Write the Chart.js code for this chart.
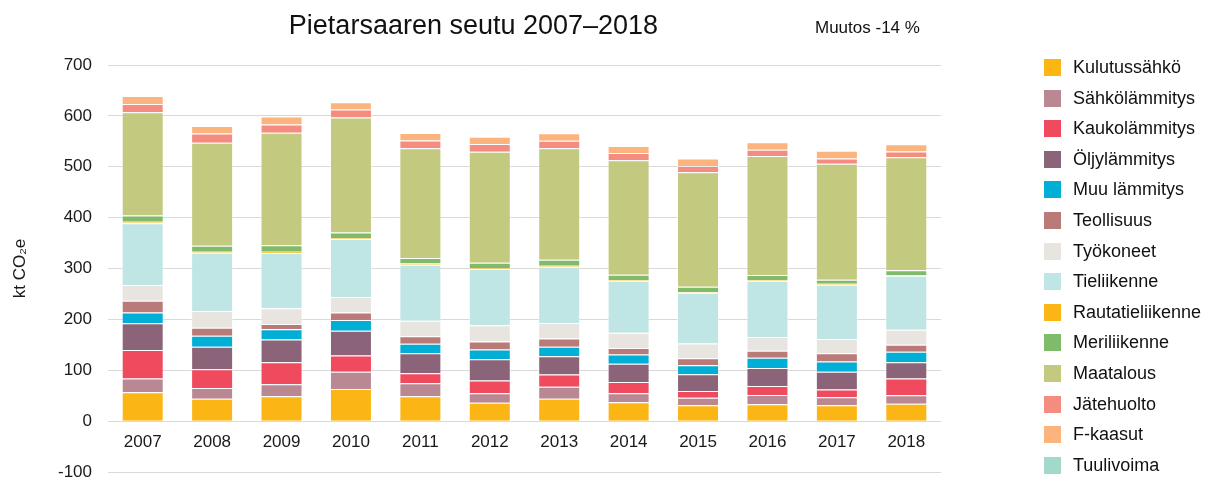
<!DOCTYPE html>
<html>
<head>
<meta charset="utf-8">
<script src="https://cdn.jsdelivr.net/npm/chart.js@4/dist/chart.umd.min.js"></script>
<style>
  body { margin: 0; background: #fff; font-family: "Liberation Sans", Arial, sans-serif; }
  #wrap { position: relative; width: 1209px; height: 477px; }
  #title { position: absolute; left: 0; width: 947px; top: 9px; text-align: center; font-size: 27px; line-height: 32px; color: #111; }
  #change { position: absolute; left: 815px; top: 18px; font-size: 17px; line-height: 20px; color: #111; }
  #legend { position: absolute; left: 1044px; top: 0; margin: 0; padding: 0; list-style: none; }
  #legend li { position: absolute; left: 0; width: 165px; height: 17px; white-space: nowrap; }
  #legend span.box { position: absolute; left: 0; top: 0; width: 17px; height: 17px; }
  #legend span.txt { position: absolute; left: 29px; top: -2px; font-size: 18px; line-height: 21px; color: #111; }
</style>
</head>
<body>
<div id="wrap">
  <canvas id="chart" width="1209" height="477"></canvas>
  <div id="title">Pietarsaaren seutu 2007–2018</div>
  <div id="change">Muutos -14 %</div>
  <ul id="legend"></ul>
</div>
<script>
var years = ["2007", "2008", "2009", "2010", "2011", "2012", "2013", "2014", "2015", "2016", "2017", "2018"];

var kulutussahko   = [57, 44, 49, 63, 49, 36, 44, 37, 31, 33, 31, 34];
var sahkolammitys  = [27, 21, 23.5, 34, 25.5, 19, 23.5, 17.6, 15, 18.3, 15.7, 17];
var kaukolammitys  = [55.6, 37, 43, 32, 19.6, 24.8, 24.2, 22.2, 13, 17.6, 15.7, 32.7];
var oljylammitys   = [53, 44, 45, 48.4, 39.2, 41.8, 36, 36, 33.3, 35.3, 34.6, 32];
var muuLammitys    = [21, 22, 20, 21.6, 19, 19, 18.3, 18.3, 17.6, 20.3, 20.3, 20.9];
var teollisuus     = [23, 15.7, 10.5, 14.4, 14.4, 15.7, 16.3, 12.4, 13.7, 13.7, 16.3, 13.7];
var tyokoneet      = [31, 32.7, 30.7, 30.7, 30.7, 32, 30.7, 30, 28.8, 27.4, 28, 29.4];
var tieliikenne    = [121.5, 114.4, 109, 113.7, 109.8, 110.5, 110.5, 102.6, 100, 110.5, 106.5, 105.9];
var rautatie       = [2.6, 2, 2, 2, 2.6, 2, 2, 1.3, 1.3, 1.3, 2, 1.3];
var meriliikenne   = [12.4, 11.8, 13, 11, 11, 10.5, 11.8, 10.5, 10.5, 9.8, 7.8, 9.8];
var maatalous      = [203, 202.6, 221, 226, 215.7, 218.3, 219, 224.8, 224.8, 234, 228, 222.2];
var jatehuolto     = [16, 18.3, 16.3, 15.7, 15, 15, 15, 14.4, 12.4, 12.4, 10.5, 11];
var fKaasut        = [16, 14.4, 15.7, 14.4, 15, 14.4, 14.4, 13.7, 15, 14.4, 15, 14.4];
var tuulivoima     = [0, 0, 0, 0, 0, 0, 0, 0, 0, 0, -3, 0];

var yTicks = [-100, 0, 100, 200, 300, 400, 500, 600, 700];

function series(label, data, color) {
    return {
        label: label,
        data: data,
        backgroundColor: color,
        borderColor: 'rgba(255,255,255,0.45)',
        borderWidth: 1,
        barPercentage: 0.605,
        categoryPercentage: 1
    };
}

var datasets = [
    series('Kulutussähkö', kulutussahko, '#fbb615'),
    series('Sähkölämmitys', sahkolammitys, '#ba8893'),
    series('Kaukolämmitys', kaukolammitys, '#ef4a5e'),
    series('Öljylämmitys', oljylammitys, '#8c6479'),
    series('Muu lämmitys', muuLammitys, '#00aed6'),
    series('Teollisuus', teollisuus, '#b97a78'),
    series('Työkoneet', tyokoneet, '#e8e5e0'),
    series('Tieliikenne', tieliikenne, '#c0e5e5'),
    series('Rautatieliikenne', rautatie, '#fbb615'),
    series('Meriliikenne', meriliikenne, '#7fbb6a'),
    series('Maatalous', maatalous, '#c3c97e'),
    series('Jätehuolto', jatehuolto, '#f48c7f'),
    series('F-kaasut', fKaasut, '#fcb47e'),
    series('Tuulivoima', tuulivoima, '#a3d9ca')
];

var ctx = document.getElementById('chart').getContext('2d');
var font = '"Liberation Sans", Arial, sans-serif';

var myChart = new Chart(ctx, {
    type: 'bar',
    data: { labels: years, datasets: datasets },
    options: {
        responsive: false,
        animation: false,
        devicePixelRatio: 1,
        layout: { padding: { top: 65, right: 268, bottom: 5, left: 0 } },
        plugins: {
            legend: { display: false },
            title: { display: false },
            tooltip: { enabled: false }
        },
        scales: {
            x: {
                stacked: true,
                position: { y: 0 },
                afterFit: function (scale) { scale.height = 0; },
                grid: { display: false },
                border: { display: false },
                ticks: { color: '#1a1a1a', padding: 3, font: { family: font, size: 17 } }
            },
            y: {
                stacked: true,
                min: yTicks[0],
                max: yTicks[yTicks.length - 1],
                afterBuildTicks: function (scale) {
                    scale.ticks = yTicks.map(function (v) { return { value: v }; });
                },
                afterFit: function (scale) {
                    scale.width = 108;
                    scale.paddingTop = 0;
                    scale.paddingBottom = 0;
                },
                grid: { color: '#d9d9d9', lineWidth: 1, drawTicks: false },
                border: { display: false },
                ticks: { color: '#1a1a1a', padding: 16, font: { family: font, size: 17 } },
                title: {
                    display: true,
                    text: 'kt CO₂e',
                    color: '#1a1a1a',
                    padding: { top: 10, bottom: 0 },
                    font: { family: font, size: 17 }
                }
            }
        }
    }
});

// legend built from the chart's datasets
var legend = document.getElementById('legend');
myChart.data.datasets.forEach(function (ds, i) {
    var li = document.createElement('li');
    li.style.top = (59 + i * 30.6) + 'px';
    var box = document.createElement('span');
    box.className = 'box';
    box.style.background = ds.backgroundColor;
    var txt = document.createElement('span');
    txt.className = 'txt';
    txt.textContent = ds.label;
    li.appendChild(box);
    li.appendChild(txt);
    legend.appendChild(li);
});
</script>
</body>
</html>
